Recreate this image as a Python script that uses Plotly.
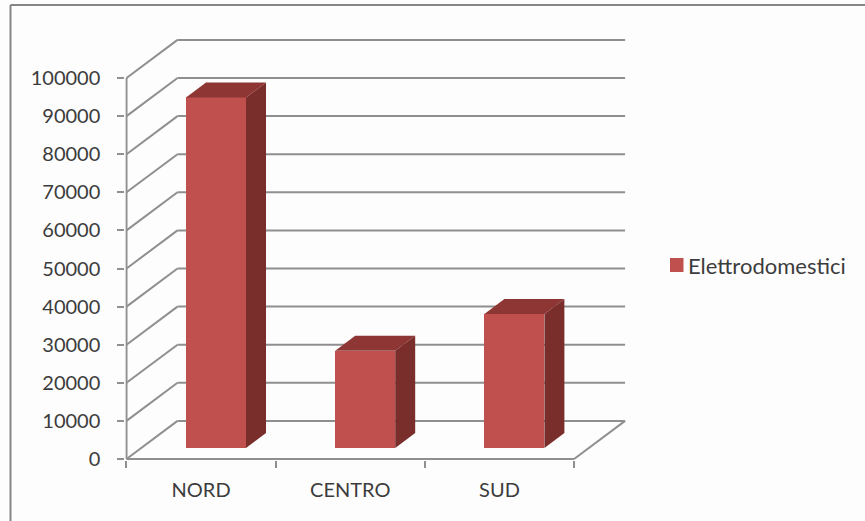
import plotly.graph_objects as go

# Chart data
categories = ["NORD", "CENTRO", "SUD"]
values = [92000, 25500, 35200]
series_name = "Elettrodomestici"
y_ticks = list(range(0, 100001, 10000))

# Page size and pixel placement of the plot frame
W, H = 865, 521
PX_X0, PX_PER_CAT = 126.5, 149.2
PX_Y0, PX_PER_UNIT = 459.0, 38.1 / 10000

# Oblique projection: depth of the box in axis units
DEPTH_X = 51 / PX_PER_CAT
DEPTH_Y = 10000

# Bars: width and their position inside the box depth
BAR_W = 60 / PX_PER_CAT
BAR_OFFSET = 89.5 / PX_PER_CAT          # centre of the front face from the category start
BAR_BASE = 11 / PX_PER_UNIT             # lift of the front face above the floor edge
BAR_DX = 20 / PX_PER_CAT                # side face run
BAR_DY = 15 / PX_PER_UNIT               # side face rise

GRID = "#8f8f8f"
FRONT = "#c0504d"
TOP = "#8e3633"
SIDE = "#7a2e2c"
TEXT = "#3c3c3c"

x_range = [-0.008, 3.4]
y_range = [-300, 112000]
domain_x = [(PX_X0 + x_range[0] * PX_PER_CAT) / W, (PX_X0 + x_range[1] * PX_PER_CAT) / W]
domain_y = [(H - PX_Y0 + y_range[0] * PX_PER_UNIT) / H, (H - PX_Y0 + y_range[1] * PX_PER_UNIT) / H]

n = len(categories)
shapes = []


def line(x0, y0, x1, y1):
    shapes.append(dict(type="line", xref="x", yref="y", x0=x0, y0=y0, x1=x1, y1=y1,
                       layer="below", line=dict(color=GRID, width=2)))


# Left wall and back wall grid
for v in y_ticks:
    line(0, v, DEPTH_X, v + DEPTH_Y)
    line(DEPTH_X, v + DEPTH_Y, n + DEPTH_X, v + DEPTH_Y)
# Axis lines and the floor's right edge
line(0, 0, 0, y_ticks[-1])
line(0, 0, n, 0)
line(n, 0, n + DEPTH_X, DEPTH_Y)

# Outer frame of the chart area
for x0, y0, x1, y1 in [(10.5, 5, W, 5), (10.5, 5, 10.5, H)]:
    shapes.append(dict(type="line", xref="paper", yref="paper",
                       x0=x0 / W, x1=x1 / W, y0=1 - y0 / H, y1=1 - y1 / H,
                       line=dict(color="#858585", width=2)))

# Legend swatch, placed tight against its label
shapes.append(dict(type="rect", xref="paper", yref="paper",
                   x0=670 / W, x1=683.5 / W, y0=1 - 272 / H, y1=1 - 258 / H,
                   fillcolor=FRONT, line=dict(width=0)))

fig = go.Figure()

centres = [i + BAR_OFFSET for i in range(n)]

# Front faces
fig.add_trace(go.Bar(
    x=centres, y=values, base=[BAR_BASE] * n, width=BAR_W, name=series_name,
    marker=dict(color=FRONT, line=dict(width=0)), showlegend=False, hoverinfo="skip",
))

# Top and side faces, projected from each bar's value
for c, v in zip(centres, values):
    left, right = c - BAR_W / 2, c + BAR_W / 2
    bottom, top = BAR_BASE, BAR_BASE + v
    fig.add_trace(go.Scatter(
        x=[left, right, right + BAR_DX, left + BAR_DX, left],
        y=[top, top, top + BAR_DY, top + BAR_DY, top],
        mode="lines", fill="toself", fillcolor=TOP, line=dict(width=0),
        showlegend=False, hoverinfo="skip",
    ))
    fig.add_trace(go.Scatter(
        x=[right, right + BAR_DX, right + BAR_DX, right, right],
        y=[bottom, bottom + BAR_DY, top + BAR_DY, top, bottom],
        mode="lines", fill="toself", fillcolor=SIDE, line=dict(width=0),
        showlegend=False, hoverinfo="skip",
    ))

font = dict(family="Lato, Open Sans, sans-serif", size=20, color=TEXT)
legend_font = dict(family="Lato, Open Sans, sans-serif", size=22, color=TEXT)

fig.update_layout(
    width=W, height=H, autosize=False, showlegend=False,
    margin=dict(l=0, r=0, t=0, b=0, autoexpand=False),
    paper_bgcolor="#fdfdfd", plot_bgcolor="rgba(0,0,0,0)",
    font=font, shapes=shapes, bargap=0,
    annotations=[dict(text=series_name, xref="paper", yref="paper",
                      x=689 / W, y=1 - 265 / H, xanchor="left", yanchor="middle",
                      xshift=-3, showarrow=False, font=legend_font)],
    xaxis=dict(
        domain=domain_x, range=x_range, showgrid=False, zeroline=False, showline=False,
        tickmode="array", tickvals=[i + 0.5 for i in range(n)], ticktext=categories,
        ticks="", ticklabelstandoff=16, tickfont=font,
        minor=dict(tickmode="array", tickvals=list(range(n + 1)), ticks="outside",
                   ticklen=7, tickwidth=2, tickcolor=GRID, showgrid=False),
    ),
    yaxis=dict(
        domain=domain_y, range=y_range, showgrid=False, zeroline=False, showline=False,
        tickmode="array", tickvals=y_ticks, ticks="outside", ticklen=7, tickwidth=2,
        tickcolor=GRID, tickfont=font, tickformat="d", ticklabelstandoff=13,
    ),
)

fig.write_html("out.html", config=dict(displayModeBar=False))
